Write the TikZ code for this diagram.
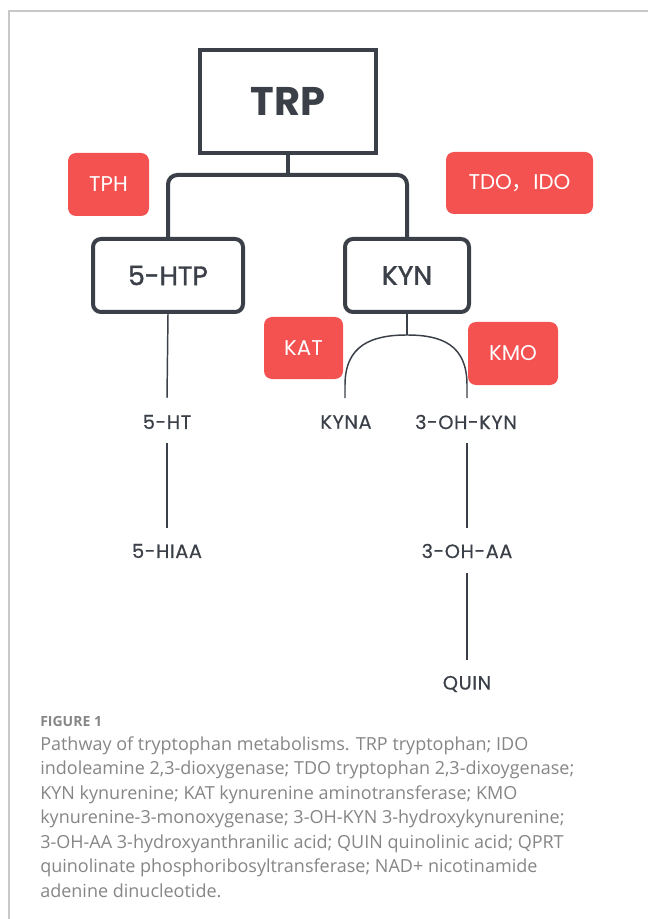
\documentclass[tikz,border=0pt]{standalone}
\usepackage{fontspec}
\setmainfont{Poppins}
\newfontfamily\capfont{Open Sans}
\newfontfamily\cjk{Noto Sans CJK SC}
\definecolor{ink}{HTML}{3B4048}
\definecolor{redbox}{HTML}{F45151}
\definecolor{capgray}{HTML}{868686}
\definecolor{framegray}{HTML}{C8C8C8}
\tikzset{
  px/.style={x=0.75pt,y=-0.75pt},
  mainbox/.style={draw=ink,line width=3pt,inner sep=0pt,font=\fontsize{20}{24}\selectfont\addfontfeature{FakeBold=1.4},text=ink},
  enzyme/.style={fill=redbox,rounded corners=6pt,inner sep=0pt,text=white,font=\fontsize{16}{19}\selectfont},
  metab/.style={inner sep=0pt,text=ink,font=\fontsize{14.5}{17}\selectfont\addfontfeature{LetterSpace=3,FakeBold=0.4}},
  thickline/.style={draw=ink,line width=3pt},
  thinline/.style={draw=ink,line width=1.1pt},
  capline/.style={anchor=base west,inner sep=0pt,text=capgray,font=\capfont\fontsize{13.5}{16}\selectfont}
}
\begin{document}
\begin{tikzpicture}[px]
\useasboundingbox[fill=white] (0,0) rectangle (648,919);
\draw[framegray,line width=1.2pt] (9,919) -- (9,11) -- (648,11);
% main boxes
\node[mainbox,minimum width=176*0.75pt,minimum height=103*0.75pt,font=\fontsize{30}{34}\selectfont\bfseries] (trp) at (288,101.5) {TRP};
\node[mainbox,rounded corners=6pt,minimum width=150*0.75pt,minimum height=73*0.75pt] (htp) at (168,275.5) {5-HTP};
\node[mainbox,rounded corners=6pt,minimum width=124*0.75pt,minimum height=73*0.75pt] (kyn) at (407,275.5) {KYN};
% enzymes
\node[enzyme,minimum width=81*0.75pt,minimum height=63*0.75pt] (tph) at (108.5,184.5) {TPH};
\node[enzyme,minimum width=147*0.75pt,minimum height=62*0.75pt] (tdo) at (519.5,183) {TDO{\cjk ，}IDO};
\node[enzyme,minimum width=79*0.75pt,minimum height=62*0.75pt] (kat) at (303.5,348) {KAT};
\node[enzyme,minimum width=90*0.75pt,minimum height=63*0.75pt] (kmo) at (513,353.5) {KMO};
% metabolites
\node[metab] (ht) at (167,422) {5-HT};
\node[metab] (kyna) at (346,422) {KYNA};
\node[metab] (ohkyn) at (466,422) {3-OH-KYN};
\node[metab] (hiaa) at (167,551) {5-HIAA};
\node[metab] (ohaa) at (467,551) {3-OH-AA};
\node[metab] (quin) at (467,684) {QUIN};
% tree connectors
\coordinate (j) at (288,175);
\draw[thickline] (trp.south) -- (j);
\draw[thickline,rounded corners=7pt] (htp.north) |- (j) -| (kyn.north);
% lower connectors
\draw[thinline] (htp.south) -- (167,398);
\coordinate (arctop) at (407,335);
\coordinate (arcL) at (345,398);
\coordinate (arcR) at (467,398);
\draw[thinline] (kyn.south) -- (arctop);
\draw[thinline] (arcL) -- (345,385) .. controls (345,345) and (372,335) .. (arctop)
  .. controls (442,335) and (467,345) .. (467,385) -- (arcR);
\draw[thinline,shorten <=21*0.75pt,shorten >=23*0.75pt] (ht.center) -- (hiaa.center);
\draw[thinline,shorten <=21*0.75pt,shorten >=23*0.75pt] (ohkyn.center -| ohaa.center) -- (ohaa.center);
\draw[thinline,shorten <=22*0.75pt,shorten >=24*0.75pt] (ohaa.center) -- (quin.center);
% caption
\node[capline,font=\capfont\fontsize{10.5}{12}\selectfont\bfseries] (fig) at (40,726) {FIGURE 1};
\node[capline] (c1) at (40,750) {Pathway of tryptophan metabolisms. TRP tryptophan; IDO};
\node[capline] (c2) at (40,774.5) {indoleamine 2,3-dioxygenase; TDO tryptophan 2,3-dixoygenase;};
\node[capline] (c3) at (40,799) {KYN kynurenine; KAT kynurenine aminotransferase; KMO};
\node[capline] (c4) at (40,823.5) {kynurenine-3-monoxygenase; 3-OH-KYN 3-hydroxykynurenine;};
\node[capline] (c5) at (40,848) {3-OH-AA 3-hydroxyanthranilic acid; QUIN quinolinic acid; QPRT};
\node[capline] (c6) at (40,872.5) {quinolinate phosphoribosyltransferase; NAD+ nicotinamide};
\node[capline] (c7) at (40,897) {adenine dinucleotide.};
\end{tikzpicture}
\end{document}
